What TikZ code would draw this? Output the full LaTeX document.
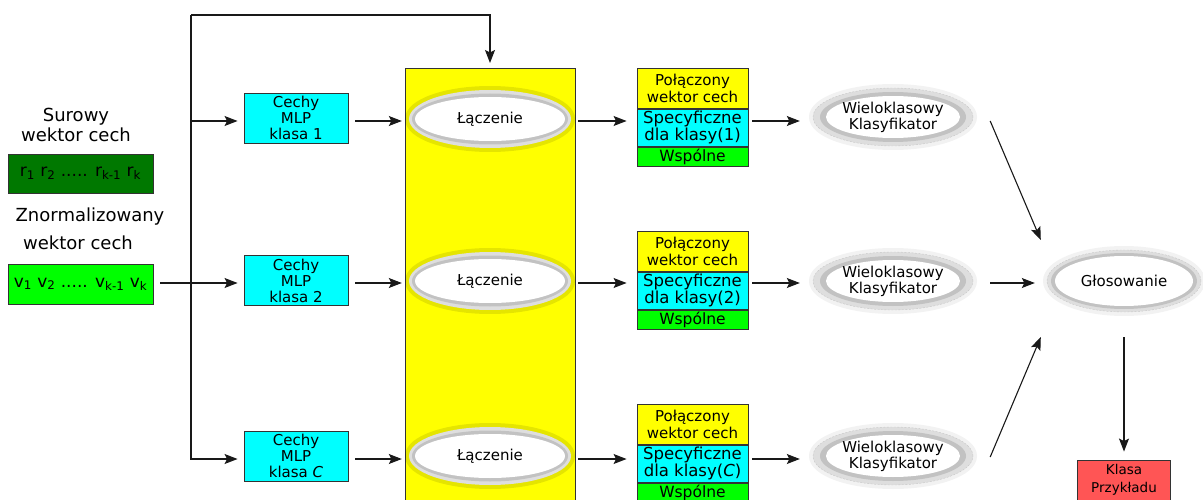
\documentclass[tikz,border=0pt]{standalone}
\usepackage{fontspec}
\setmainfont{DejaVu Sans}
\usetikzlibrary{arrows.meta,shapes.geometric}
\definecolor{rawgreen}{HTML}{007800}
\definecolor{normgreen}{HTML}{00FF00}
\definecolor{cyanbox}{HTML}{00FFFF}
\definecolor{yelbox}{HTML}{FFFF00}
\definecolor{redbox}{HTML}{FF5555}
\definecolor{edge}{HTML}{333333}

\begin{document}
\begin{tikzpicture}[x=1pt,y=-1pt,
  box/.style={draw=edge,line width=0.9pt,inner sep=0pt,align=center,
    font=\fontsize{15}{16}\selectfont},
  arr/.style={draw=black!90,line width=1.1pt,
    -{Stealth[length=13pt,width=10pt,inset=2.5pt]}},
  lbl/.style={inner sep=0pt,align=center,font=\fontsize{18}{20}\selectfont},
  % ring: outer fill, then a darker band, then the white core
  ring/.style n args={4}{ellipse,inner sep=0pt,align=center,
    font=\fontsize{15}{16}\selectfont,fill=black!13,
    path picture={
      \fill[black!24] (path picture bounding box.center)
        ellipse [x radius=#1pt,y radius=#2pt];
      \fill[white] (path picture bounding box.center)
        ellipse [x radius=#3pt,y radius=#4pt];}},
  halo/.style={preaction={draw=black,draw opacity=#1,line width=8pt,solid}},
  rim/.style={draw=black!22,line width=0.4pt,dash pattern=on 2pt off 1.5pt},
]
\useasboundingbox (0,0) rectangle (1203,500);
\clip (0,0) rectangle (1203,500);

% input vectors
\node[lbl] (rawlbl) at (76,125) {Surowy\\wektor cech};
\node[box,fill=rawgreen,minimum width=145pt,minimum height=39pt,
  font=\fontsize{17}{20}\selectfont] (raw) at (80.5,173.5)
  {r\textsubscript{1} r\textsubscript{2} ..... r\textsubscript{k-1} r\textsubscript{k}};
\node[lbl] (normlblA) at (90,217) {Znormalizowany};
\node[lbl] (normlblB) at (78,243) {wektor cech};
\node[box,fill=normgreen,minimum width=145pt,minimum height=40pt,
  font=\fontsize{17}{20}\selectfont] (norm) at (80.5,284)
  {v\textsubscript{1} v\textsubscript{2} ..... v\textsubscript{k-1} v\textsubscript{k}};

% per-class MLP features
\node[box,fill=cyanbox,minimum width=104pt,minimum height=50pt] (mlp1) at (296,118) {Cechy\\MLP\\klasa 1};
\node[box,fill=cyanbox,minimum width=104pt,minimum height=50pt] (mlp2) at (296,280.5) {Cechy\\MLP\\klasa 2};
\node[box,fill=cyanbox,minimum width=104pt,minimum height=50pt] (mlp3) at (296,456) {Cechy\\MLP\\klasa \textit{C}};

% joining column
\node[draw=edge,line width=0.9pt,fill=yelbox,minimum width=170pt,minimum height=470pt,
  inner sep=0pt,anchor=north] (join) at (490,68) {};
\node[ring={78}{25.5}{75}{22},halo=0.10,minimum width=162pt,minimum height=58pt] (lacz1) at (490,119) {Łączenie};
\node[ring={78}{25.5}{75}{22},halo=0.10,minimum width=162pt,minimum height=58pt] (lacz2) at (490,281) {Łączenie};
\node[ring={78}{25.5}{75}{22},halo=0.10,minimum width=162pt,minimum height=58pt] (lacz3) at (490,456) {Łączenie};

% combined feature vectors
\foreach \i/\y/\c in {1/68/1,2/231/2,3/404/\textit{C}}{
  \node[box,fill=yelbox,minimum width=111pt,minimum height=40pt,anchor=north,
    font=\fontsize{15}{17}\selectfont] (comb\i) at (692.5,\y) {Połączony\\wektor cech};
  \node[box,fill=cyanbox,minimum width=111pt,minimum height=37pt,anchor=north,
    font=\fontsize{16.5}{17}\selectfont] (spec\i) at (comb\i.south) {Specyficzne\\dla klasy(\c)};
  \node[box,fill=normgreen,minimum width=111pt,minimum height=19pt,anchor=north,
    font=\fontsize{15.5}{17}\selectfont] (shared\i) at (spec\i.south) {Wspólne};
}

% classifiers and voting
\node[ring={73}{25}{67}{21},halo=0.05,rim,minimum width=160pt,minimum height=58pt] (wielo1) at (893,117) {Wieloklasowy\\Klasyfikator};
\node[ring={73}{25}{67}{21},halo=0.05,rim,minimum width=160pt,minimum height=58pt] (wielo2) at (893,281) {Wieloklasowy\\Klasyfikator};
\node[ring={73}{25}{67}{21},halo=0.05,rim,minimum width=160pt,minimum height=58pt] (wielo3) at (893,456) {Wieloklasowy\\Klasyfikator};
\node[ring={73}{28}{69}{25},halo=0.05,rim,minimum width=154pt,minimum height=62pt] (glos) at (1124,281) {Głosowanie};
\node[box,fill=redbox,minimum width=93pt,minimum height=40pt,
  font=\fontsize{13.5}{18}\selectfont] (cls) at (1124,480) {Klasa\\Przykładu};

% connectors
\coordinate (row1) at (0,121);
\coordinate (row2) at (0,283);
\coordinate (row3) at (0,459);
\coordinate (busTop) at (191,15);
\coordinate (busBot) at (191,459);
\coordinate (bus1) at (191,121);

\draw[arr] (busTop) -| ([yshift=5pt]join.north);
\draw[arr] (busTop) -- (busBot) -- ([xshift=-6pt]mlp3.west |- busBot);
\draw[arr] (bus1) -- ([xshift=-6pt]mlp1.west |- bus1);
\draw[arr] ([xshift=7pt]norm.east |- row2) -- ([xshift=-6pt]mlp2.west |- row2);

\foreach \i in {1,2,3}{
  \draw[arr] ([xshift=7pt]mlp\i.east |- row\i) -- ([xshift=-7pt]lacz\i.west |- row\i);
  \draw[arr] ([xshift=7pt]lacz\i.east |- row\i) -- ([xshift=-10pt]comb\i.west |- row\i);
  \draw[arr] ([xshift=4pt]spec\i.east |- row\i) -- ([xshift=-13pt]wielo\i.west |- row\i);
}

\draw[arr] ([shift={(17pt,-4pt)}]wielo1.east) -- ([shift={(-6pt,41pt)}]glos.west);
\draw[arr] ([xshift=17pt]wielo2.east |- row2) -- ([xshift=-12pt]glos.west |- row2);
\draw[arr] ([shift={(17pt,-1pt)}]wielo3.east) -- ([shift={(-6pt,-56pt)}]glos.west);
\draw[arr] ([yshift=-25pt]glos.south) -- ([yshift=8pt]cls.north);
\end{tikzpicture}
\end{document}
